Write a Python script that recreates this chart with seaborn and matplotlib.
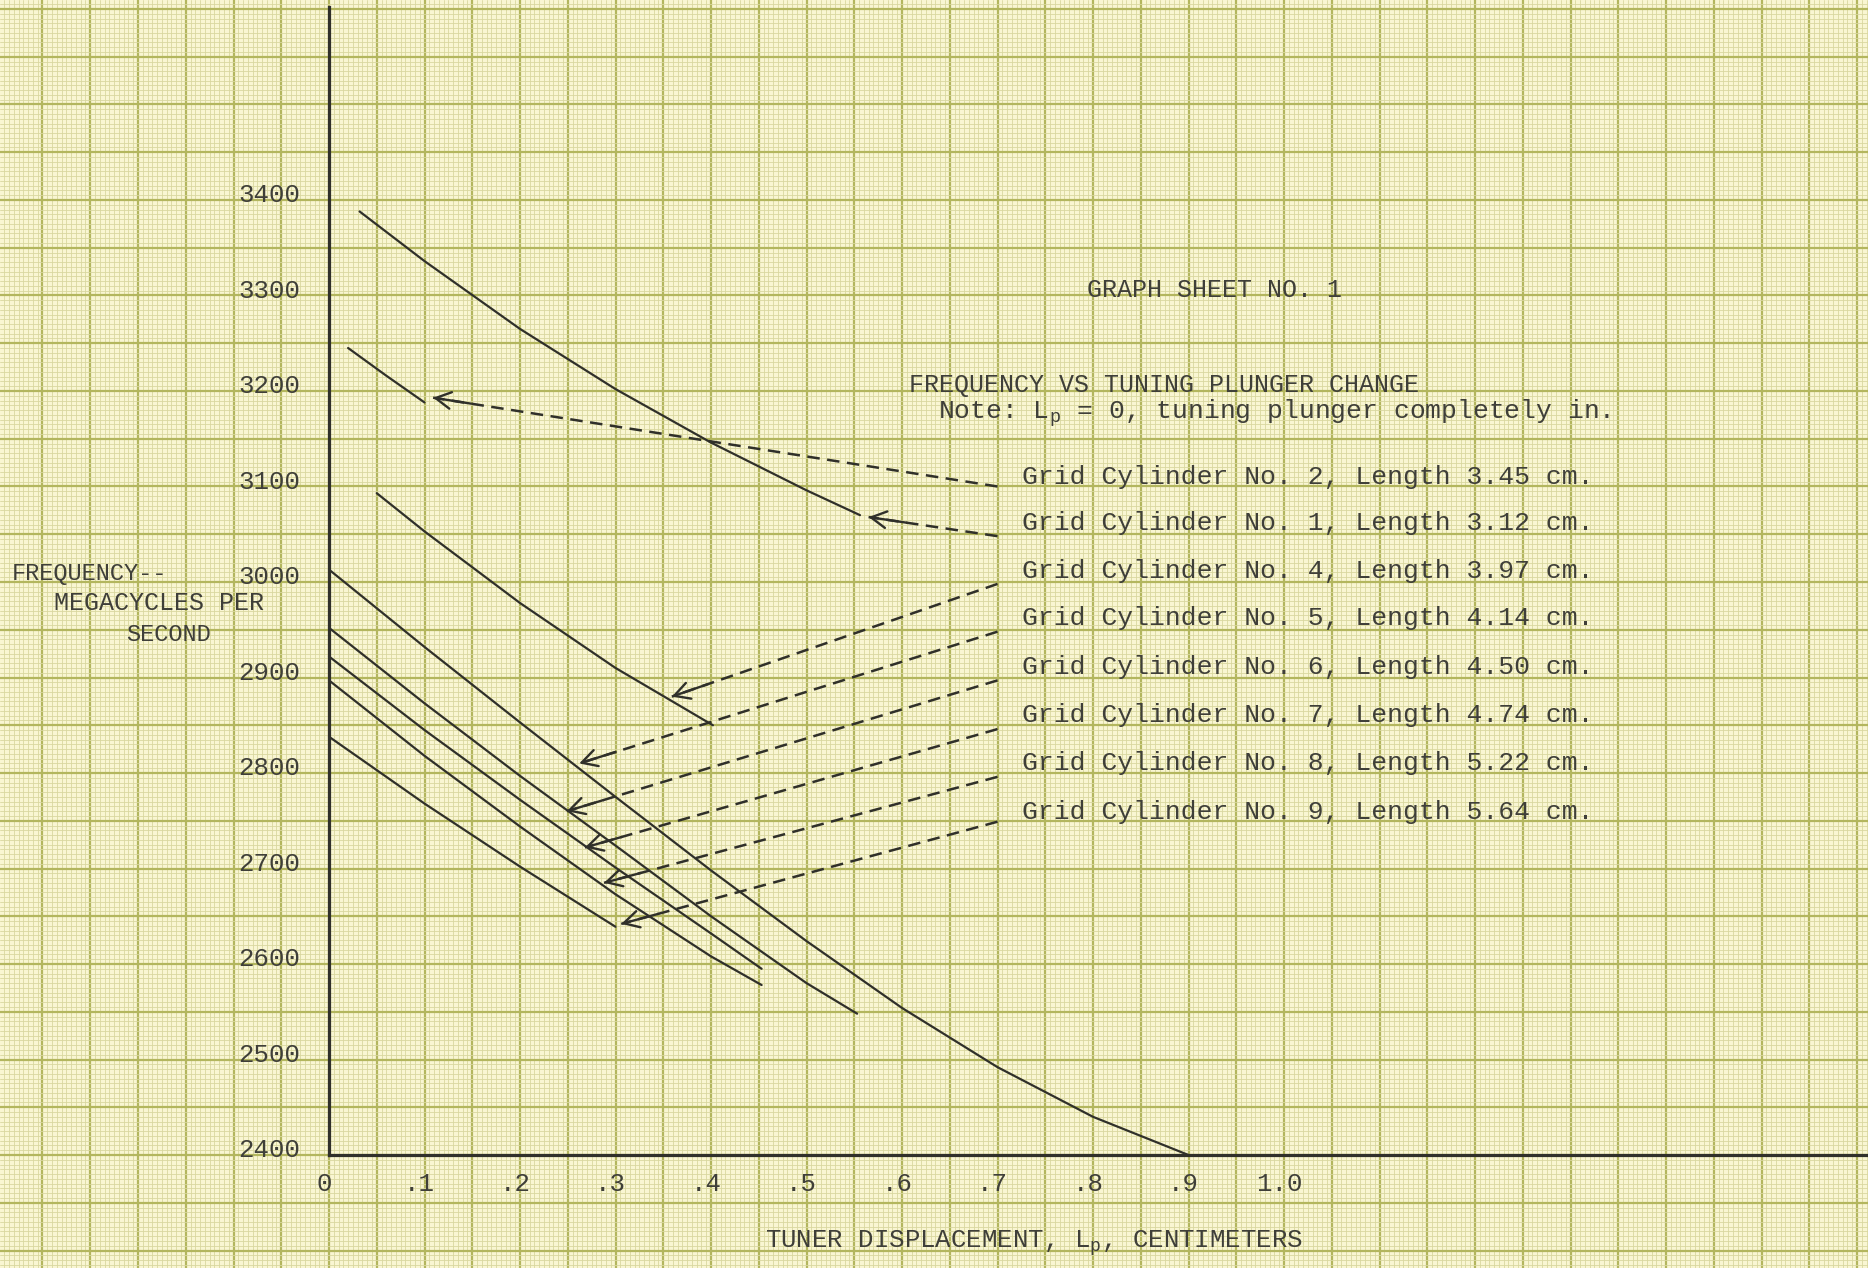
import numpy as np
import pandas as pd
import matplotlib
matplotlib.use("Agg")
import matplotlib.pyplot as plt
from matplotlib.ticker import MultipleLocator
import seaborn as sns

# Curves: tuner displacement (cm) vs frequency (Mc/s)
cyl_1_x = [0.032, 0.1, 0.2, 0.3, 0.4, 0.5, 0.556]
cyl_1_f = [3388, 3336, 3265, 3202, 3146, 3096, 3070]
cyl_2_x = [0.02, 0.06, 0.10]
cyl_2_f = [3245, 3216, 3188]
cyl_4_x = [0.05, 0.1, 0.2, 0.3, 0.402]
cyl_4_f = [3093, 3053, 2978, 2910, 2850]
cyl_5_x = [0, 0.1, 0.2, 0.3, 0.4, 0.5, 0.6, 0.7, 0.8, 0.9]
cyl_5_f = [3013, 2932, 2853, 2775, 2698, 2624, 2554, 2492, 2440, 2400]
cyl_6_x = [0, 0.1, 0.2, 0.3, 0.4, 0.5, 0.553]
cyl_6_f = [2952, 2873, 2797, 2724, 2650, 2580, 2548]
cyl_7_x = [0, 0.1, 0.2, 0.3, 0.4, 0.453]
cyl_7_f = [2922, 2845, 2772, 2701, 2632, 2595]
cyl_8_x = [0, 0.1, 0.2, 0.3, 0.4, 0.453]
cyl_8_f = [2897, 2818, 2744, 2673, 2608, 2578]
cyl_9_x = [0, 0.1, 0.2, 0.3]
cyl_9_f = [2838, 2768, 2702, 2639]

# legend block (typed) with dashed leaders pointing at the curves
label_text = [
    "Grid Cylinder No. 2, Length 3.45 cm.",
    "Grid Cylinder No. 1, Length 3.12 cm.",
    "Grid Cylinder No. 4, Length 3.97 cm.",
    "Grid Cylinder No. 5, Length 4.14 cm.",
    "Grid Cylinder No. 6, Length 4.50 cm.",
    "Grid Cylinder No. 7, Length 4.74 cm.",
    "Grid Cylinder No. 8, Length 5.22 cm.",
    "Grid Cylinder No. 9, Length 5.64 cm.",
]
label_f = [3110, 3062, 3012, 2962, 2911, 2861, 2810, 2759]
leader_x = 0.70
leader_f = [3100, 3048, 2998, 2948, 2897, 2846, 2796, 2749]
tip_x = [0.109, 0.565, 0.359, 0.262, 0.249, 0.268, 0.288, 0.306]
tip_f = [3193, 3068, 2880, 2810, 2760, 2722, 2685, 2642]

ytick_vals = [2400, 2500, 2600, 2700, 2800, 2900, 3000, 3100, 3200, 3300, 3400]
xtick_vals = [0, 0.1, 0.2, 0.3, 0.4, 0.5, 0.6, 0.7, 0.8, 0.9, 1.0]
xtick_text = ["0", ".1", ".2", ".3", ".4", ".5", ".6", ".7", ".8", ".9", "1.0"]

paper = "#f9f6d2"
grid_minor = "#d9d79f"
grid_major = "#b3b65e"
ink = "#30302a"
type_ink = "#3f3f39"

sns.set_style("white", rc={"axes.facecolor": paper, "figure.facecolor": paper})
plt.rcParams["font.family"] = ["Liberation Mono", "DejaVu Sans Mono"]
plt.rcParams["mathtext.fontset"] = "custom"
plt.rcParams["mathtext.rm"] = "Liberation Mono"

fig, ax = plt.subplots(figsize=(18.68, 12.68), dpi=100)
ax.set_position([0, 0, 1, 1])

xmin, xmax = -0.3445, 1.6115
ymin, ymax = 2281.7, 3609.4

# graph paper
ax.xaxis.set_major_locator(MultipleLocator(0.05))
ax.xaxis.set_minor_locator(MultipleLocator(0.005))
ax.yaxis.set_major_locator(MultipleLocator(50))
ax.yaxis.set_minor_locator(MultipleLocator(5))
ax.grid(which="minor", color=grid_minor, lw=0.6)
ax.grid(which="major", color=grid_major, lw=1.6)
ax.set_axisbelow(True)
ax.tick_params(which="both", length=0, labelbottom=False, labelleft=False)

# curves
curves = {
    "No. 1": (cyl_1_x, cyl_1_f), "No. 2": (cyl_2_x, cyl_2_f),
    "No. 4": (cyl_4_x, cyl_4_f), "No. 5": (cyl_5_x, cyl_5_f),
    "No. 6": (cyl_6_x, cyl_6_f), "No. 7": (cyl_7_x, cyl_7_f),
    "No. 8": (cyl_8_x, cyl_8_f), "No. 9": (cyl_9_x, cyl_9_f),
}
df = pd.concat([pd.DataFrame({"x": xs, "f": fs, "curve": k})
                for k, (xs, fs) in curves.items()], ignore_index=True)
sns.lineplot(data=df, x="x", y="f", units="curve", estimator=None, sort=False,
             color=ink, lw=1.6, ax=ax, legend=False)

# leaders + arrow heads
for lf, tx, tf in zip(leader_f, tip_x, tip_f):
    ax.plot([leader_x, tx], [lf, tf], color=ink, lw=1.8, ls=(0, (5, 3)))
    back = 0.04
    dist = np.hypot(leader_x - tx, (lf - tf) / 1000)
    bx = tx + (leader_x - tx) * back / dist
    bf = tf + (lf - tf) * back / dist
    ax.annotate("", xy=(tx, tf), xytext=(bx, bf),
                arrowprops=dict(arrowstyle="->,head_length=0.55,head_width=0.3",
                                color=ink, lw=1.7, mutation_scale=20,
                                shrinkA=0, shrinkB=0))

for txt, lf in zip(label_text, label_f):
    ax.text(0.726, lf, txt, fontsize=19, color=type_ink, va="center", ha="left")

# axes lines
for s in ["top", "right"]:
    ax.spines[s].set_visible(False)
ax.spines["left"].set_position(("data", 0))
ax.spines["bottom"].set_position(("data", 2400))
ax.spines["left"].set_bounds(2400, 3602)
ax.spines["bottom"].set_bounds(0, xmax)
for s in ["left", "bottom"]:
    ax.spines[s].set_linewidth(2.3)
    ax.spines[s].set_color(ink)

# typed tick labels
for v in ytick_vals:
    ax.text(-0.030, v + 5, str(v), fontsize=18.5, color=type_ink, ha="right", va="center")
for v, t in zip(xtick_vals, xtick_text):
    ax.text(v - 0.005, 2370, t, fontsize=18.5, color=type_ink, ha="center", va="center")

# titles and axis captions
ax.text(0.794, 3306, "GRAPH SHEET NO. 1", fontsize=18, color=type_ink, va="center")
ax.text(0.607, 3206, "FREQUENCY VS TUNING PLUNGER CHANGE", fontsize=18,
        color=type_ink, va="center")
ax.text(0.638, 3177, r"Note: $\mathregular{L_p}$ = 0, tuning plunger completely in.",
        fontsize=19, color=type_ink, va="center")
ax.text(0.4565, 2308, r"TUNER DISPLACEMENT, $\mathregular{L_p}$, CENTIMETERS",
        fontsize=18.5, color=type_ink, va="center")
ax.text(-0.332, 3009, "FREQUENCY--", fontsize=17, color=type_ink, va="center")
ax.text(-0.288, 2978, "MEGACYCLES PER", fontsize=18, color=type_ink, va="center")
ax.text(-0.212, 2945, "SECOND", fontsize=17, color=type_ink, va="center")

ax.set_xlim(xmin, xmax)
ax.set_ylim(ymin, ymax)
ax.set_xlabel("")
ax.set_ylabel("")

fig.savefig("out.png", dpi=100, facecolor=paper)
